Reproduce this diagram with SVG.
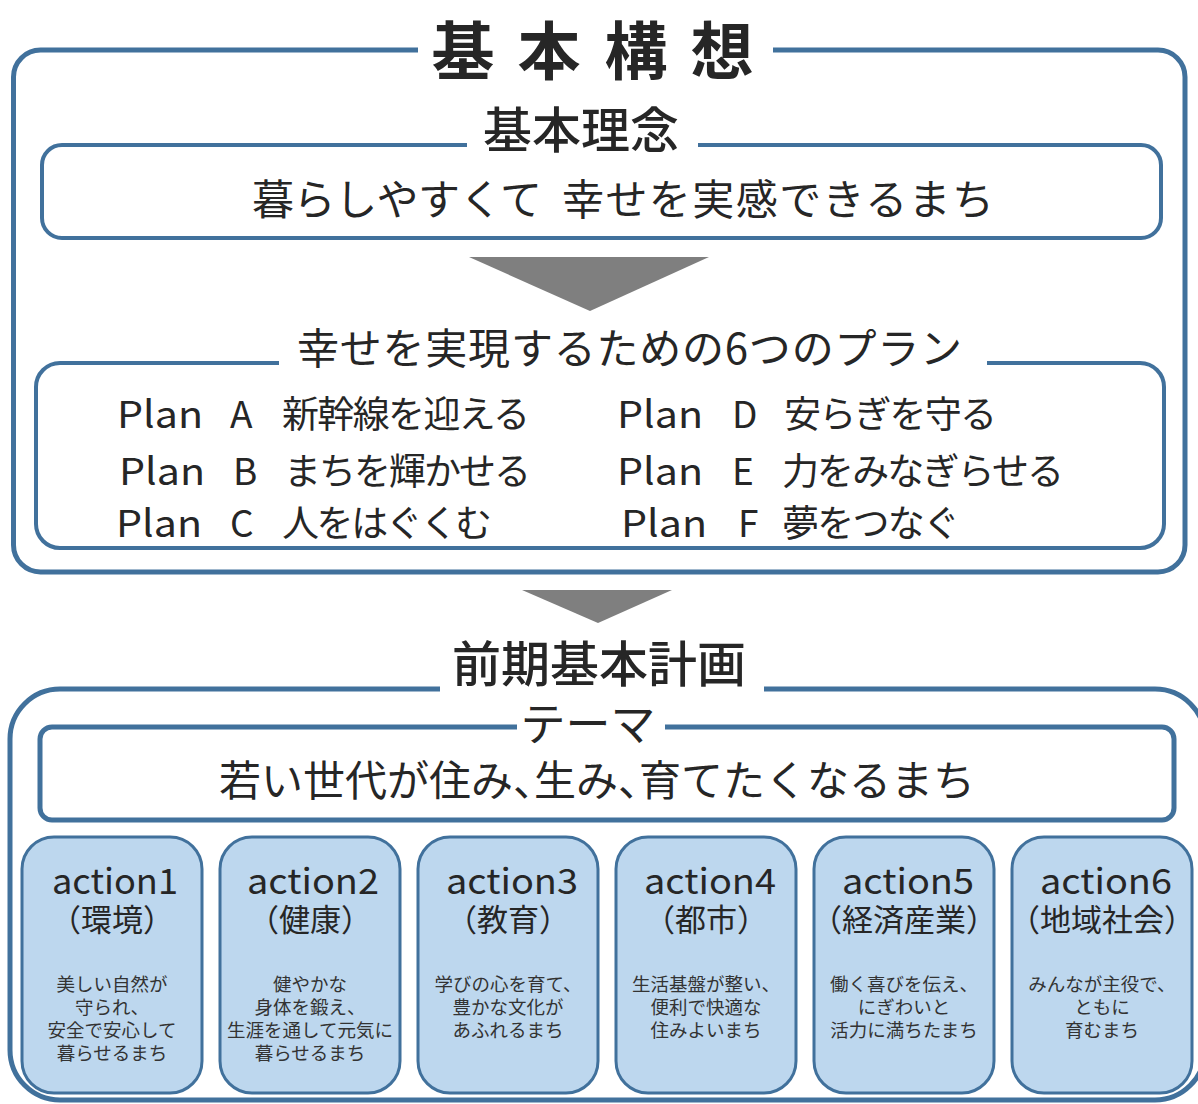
<svg xmlns="http://www.w3.org/2000/svg" width="1198" height="1104" viewBox="0 0 1198 1104">
<style>
.frame{fill:none;stroke:#41719c;stroke-linejoin:round}
.outer{stroke-width:5}
.inner{stroke-width:4}
.act{fill:#bdd7ee;stroke:#41719c;stroke-width:3}
.arrow{fill:#7f7f7f}
text{font-family:"Noto Sans CJK JP","Noto Sans",sans-serif;fill:#262626}
.mid{text-anchor:middle}
.h1{font-size:63px;font-weight:700}
.h2{font-size:49px;font-weight:500}
.body{font-size:42px;font-weight:400}
.plan{font-size:37px;font-weight:400}
.an{font-size:35px;font-weight:400;text-anchor:middle}
.ap{font-size:31px;font-weight:400;text-anchor:middle}
.desc{font-size:18.5px;font-weight:400;text-anchor:middle;fill:#333}
</style>

<g id="kihon-koso">
<path class="frame outer" d="M418,50 H40.5 A27,27 0 0 0 13.5,77 V545 A27,27 0 0 0 40.5,572 H1158 A27,27 0 0 0 1185,545 V77 A27,27 0 0 0 1158,50 H773"/>
<text class="h1 mid" x="463 549 636 722" y="74">基本構想</text>
</g>

<g id="kihon-rinen">
<path class="frame inner" d="M467,145 H62 A20,20 0 0 0 42,165 V218 A20,20 0 0 0 62,238 H1141 A20,20 0 0 0 1161,218 V165 A20,20 0 0 0 1141,145 H698"/>
<text class="h2 mid" x="581" y="148" font-size="50">基本理念</text>
<text class="body" x="252" y="215" textLength="290" lengthAdjust="spacing">暮らしやすくて</text>
<text class="body" x="562" y="215" textLength="432" lengthAdjust="spacing">幸せを実感できるまち</text>
</g>

<g id="plans">
<path class="frame inner" d="M279,363 H60 A24,24 0 0 0 36,387 V524 A24,24 0 0 0 60,548 H1140 A24,24 0 0 0 1164,524 V387 A24,24 0 0 0 1140,363 H987"/>
<text class="body mid" x="629.5" y="364" textLength="665" lengthAdjust="spacing">幸せを実現するための6つのプラン</text>
<text class="plan" x="117" y="428" textLength="86" lengthAdjust="spacingAndGlyphs">Plan</text>
<text class="plan" x="230" y="428">A</text>
<text class="plan" x="282" y="428" textLength="248" lengthAdjust="spacing">新幹線を迎える</text>
<text class="plan" x="119" y="485" textLength="86" lengthAdjust="spacingAndGlyphs">Plan</text>
<text class="plan" x="233" y="485">B</text>
<text class="plan" x="284" y="485" textLength="247" lengthAdjust="spacing">まちを輝かせる</text>
<text class="plan" x="116" y="537" textLength="86" lengthAdjust="spacingAndGlyphs">Plan</text>
<text class="plan" x="230" y="537">C</text>
<text class="plan" x="282" y="537" textLength="210" lengthAdjust="spacing">人をはぐくむ</text>
<text class="plan" x="617" y="428" textLength="86" lengthAdjust="spacingAndGlyphs">Plan</text>
<text class="plan" x="732" y="428">D</text>
<text class="plan" x="784" y="428" textLength="213" lengthAdjust="spacing">安らぎを守る</text>
<text class="plan" x="617" y="485" textLength="86" lengthAdjust="spacingAndGlyphs">Plan</text>
<text class="plan" x="732" y="485">E</text>
<text class="plan" x="782" y="485" textLength="282" lengthAdjust="spacing">力をみなぎらせる</text>
<text class="plan" x="621" y="537" textLength="86" lengthAdjust="spacingAndGlyphs">Plan</text>
<text class="plan" x="738" y="537">F</text>
<text class="plan" x="782" y="537" textLength="178" lengthAdjust="spacing">夢をつなぐ</text>
</g>

<g id="zenki-keikaku">
<path class="frame outer" d="M440,689 H60 A50,50 0 0 0 10,739 V1050 A50,50 0 0 0 60,1100 H1155 A50,50 0 0 0 1205,1050 V739 A50,50 0 0 0 1155,689 H764"/>
<text class="h2 mid" x="599" y="682">前期基本計画</text>
</g>

<g id="theme">
<path class="frame outer" d="M517,727 H52 A12,12 0 0 0 40,739 V808 A12,12 0 0 0 52,820 H1162 A12,12 0 0 0 1174,808 V739 A12,12 0 0 0 1162,727 H665"/>
<text class="mid" x="588" y="741" font-size="45">テーマ</text>
<text class="body" y="796"><tspan x="219">若い世代が住み</tspan><tspan x="513">、</tspan><tspan x="534">生み</tspan><tspan x="618">、</tspan><tspan x="639">育てたくなるまち</tspan></text>
</g>

<g id="action1">
<rect class="act" x="22" y="837" width="180" height="256" rx="32"/>
<text class="an" x="115" y="894" textLength="126" lengthAdjust="spacingAndGlyphs">action1</text>
<text class="ap" x="112" y="931">（環境）</text>
<text class="desc" x="112" y="991">美しい自然が</text>
<text class="desc" x="112" y="1014">守られ、</text>
<text class="desc" x="112" y="1037">安全で安心して</text>
<text class="desc" x="112" y="1060">暮らせるまち</text>
</g>
<g id="action2">
<rect class="act" x="220" y="837" width="180" height="256" rx="32"/>
<text class="an" x="313" y="894" textLength="132" lengthAdjust="spacingAndGlyphs">action2</text>
<text class="ap" x="310" y="931">（健康）</text>
<text class="desc" x="310" y="991">健やかな</text>
<text class="desc" x="310" y="1014">身体を鍛え、</text>
<text class="desc" x="310" y="1037">生涯を通して元気に</text>
<text class="desc" x="310" y="1060">暮らせるまち</text>
</g>
<g id="action3">
<rect class="act" x="418" y="837" width="180" height="256" rx="32"/>
<text class="an" x="512" y="894" textLength="132" lengthAdjust="spacingAndGlyphs">action3</text>
<text class="ap" x="508" y="931">（教育）</text>
<text class="desc" x="508" y="991">学びの心を育て、</text>
<text class="desc" x="508" y="1014">豊かな文化が</text>
<text class="desc" x="508" y="1037">あふれるまち</text>
</g>
<g id="action4">
<rect class="act" x="616" y="837" width="180" height="256" rx="32"/>
<text class="an" x="710" y="894" textLength="132" lengthAdjust="spacingAndGlyphs">action4</text>
<text class="ap" x="706" y="931">（都市）</text>
<text class="desc" x="706" y="991">生活基盤が整い、</text>
<text class="desc" x="706" y="1014">便利で快適な</text>
<text class="desc" x="706" y="1037">住みよいまち</text>
</g>
<g id="action5">
<rect class="act" x="814" y="837" width="180" height="256" rx="32"/>
<text class="an" x="908" y="894" textLength="132" lengthAdjust="spacingAndGlyphs">action5</text>
<text class="ap" x="904" y="931">（経済産業）</text>
<text class="desc" x="904" y="991">働く喜びを伝え、</text>
<text class="desc" x="904" y="1014">にぎわいと</text>
<text class="desc" x="904" y="1037">活力に満ちたまち</text>
</g>
<g id="action6">
<rect class="act" x="1012" y="837" width="180" height="256" rx="32"/>
<text class="an" x="1106" y="894" textLength="132" lengthAdjust="spacingAndGlyphs">action6</text>
<text class="ap" x="1102" y="931">（地域社会）</text>
<text class="desc" x="1102" y="991">みんなが主役で、</text>
<text class="desc" x="1102" y="1014">ともに</text>
<text class="desc" x="1102" y="1037">育むまち</text>
</g>

<g id="connectors">
<polygon class="arrow" points="469,257 709,257 590,311"/>
<polygon class="arrow" points="522,590 672,590 598,623"/>
</g>
</svg>
